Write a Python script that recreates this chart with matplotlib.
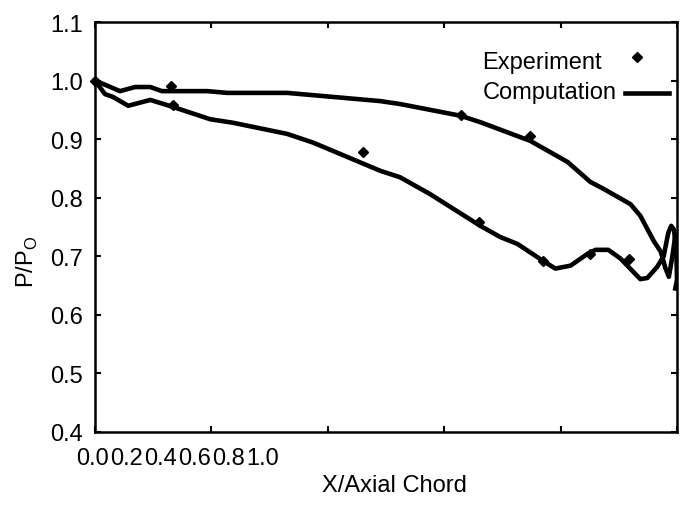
import matplotlib.pyplot as plt

plt.rcParams['font.family'] = ['Liberation Sans', 'DejaVu Sans']
plt.rcParams['mathtext.fontset'] = 'custom'
plt.rcParams['mathtext.rm'] = 'Liberation Sans'

# computed surface pressure, upper branch
upper_x = [0.0, 0.017, 0.043, 0.069, 0.095, 0.115, 0.193, 0.227, 0.330, 0.490,
           0.524, 0.628, 0.662, 0.748, 0.812, 0.851, 0.874, 0.920, 0.937, 0.960,
           0.972, 0.980, 0.986, 0.992, 0.997, 1.0]
upper_y = [1.0, 0.993, 0.982, 0.989, 0.989, 0.982, 0.982, 0.979, 0.979, 0.965,
           0.960, 0.940, 0.929, 0.897, 0.861, 0.827, 0.815, 0.789, 0.769, 0.726,
           0.708, 0.680, 0.665, 0.700, 0.735, 0.720]

# computed surface pressure, lower branch
lower_x = [0.0, 0.017, 0.031, 0.057, 0.095, 0.134, 0.198, 0.237, 0.330, 0.375,
           0.490, 0.524, 0.576, 0.662, 0.696, 0.726, 0.770, 0.791, 0.817, 0.846,
           0.860, 0.882, 0.903, 0.937, 0.949, 0.966, 0.977, 0.985, 0.990, 0.995,
           0.999, 1.0, 0.997]
lower_y = [1.0, 0.977, 0.972, 0.957, 0.967, 0.955, 0.934, 0.928, 0.909, 0.894,
           0.846, 0.835, 0.806, 0.752, 0.733, 0.721, 0.692, 0.679, 0.684, 0.704,
           0.711, 0.711, 0.696, 0.661, 0.663, 0.682, 0.700, 0.740, 0.752, 0.745,
           0.700, 0.660, 0.645]

# measured
exp_x = [0.0, 0.130, 0.134, 0.461, 0.628, 0.660, 0.748, 0.770, 0.851, 0.917]
exp_y = [1.0, 0.991, 0.958, 0.878, 0.941, 0.759, 0.905, 0.692, 0.704, 0.696]

xticks = [0.0, 0.2, 0.4, 0.6, 0.8, 1.0]
xtick_labels = ['0.0', '0.2', '0.4', '0.6', '0.8', '1.0']
yticks = [0.4, 0.5, 0.6, 0.7, 0.8, 0.9, 1.0, 1.1]

fig = plt.figure(figsize=(6.84, 5.06), dpi=100)
ax = fig.add_axes([0.1389, 0.1443, 0.8509, 0.8102])

ax.plot(upper_x, upper_y, color='black', lw=3.3, solid_joinstyle='round')
ax.plot(lower_x, lower_y, color='black', lw=3.3, solid_joinstyle='round')
ax.plot(exp_x, exp_y, 'D', color='black', ms=5, clip_on=False, zorder=5)

ax.set_xlim(0, 1)
ax.set_ylim(0.4, 1.1)
ax.set_xticks(xticks)
ax.set_xticklabels([])
ax.set_yticks(yticks)
ax.set_yticklabels(['%.1f' % v for v in yticks])
ax.tick_params(direction='in', length=4.3, width=1.5, top=True, right=True,
               labelsize=17, pad=8.5)
for s in ax.spines.values():
    s.set_linewidth(1.8)

# x tick labels sit bunched up at the left, as in the original
for i, lab in enumerate(xtick_labels):
    ax.text(-0.005 + i * 0.0585, -0.063, lab, transform=ax.transAxes,
            ha='center', va='center', fontsize=17)

ax.set_xlabel('X/Axial Chord', fontsize=17, va='center')
ax.xaxis.set_label_coords(0.514, -0.129)
ax.set_ylabel(r'P/P$_\mathrm{O}$', fontsize=17, va='center')
ax.yaxis.set_label_coords(-0.117, 0.417)

# key, gnuplot style: labels left aligned, sample on the right
ax.text(0.6655, 0.902, 'Experiment', transform=ax.transAxes,
        ha='left', va='center', fontsize=17)
ax.text(0.6655, 0.829, 'Computation', transform=ax.transAxes,
        ha='left', va='center', fontsize=17)
ax.plot([0.931], [0.914], 'D', color='black', ms=5, transform=ax.transAxes)
ax.plot([0.911, 0.9854], [0.826, 0.826], color='black', lw=3.3,
        transform=ax.transAxes)

fig.savefig('out.png', dpi=100)
